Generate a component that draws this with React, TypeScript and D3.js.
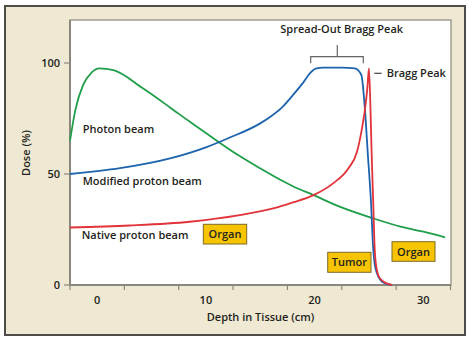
import React from "react";
import * as d3 from "d3";

const photonDepth = [-2.5, -2, -1.3, -0.5, 0.2, 1.5, 4.2, 6.7, 8.5, 10, 11.3, 13, 15, 16.8, 18, 19.9, 22.3, 25.4, 27.9, 30, 32];
const photonDose = [65, 79, 90, 95.8, 97.6, 96.8, 88.6, 80, 73.6, 68.5, 64, 58.4, 52.5, 47.5, 44.5, 40.5, 35.3, 30, 26.3, 24, 21.5];

const modifiedDepth = [-2.5, 2.1, 6.7, 10, 12, 15, 16, 17, 18, 19, 19.6, 20.1, 20.8, 22.5, 23.7, 24.3, 24.6, 24.9, 25.2, 25.35, 25.6, 26.2, 27.1];
const modifiedDose = [50, 52.6, 57, 62, 66, 72.8, 76, 80, 85.5, 91.5, 95.5, 97.5, 97.9, 97.9, 97.6, 94.6, 81, 58.6, 36, 19.5, 7.5, 1.5, 0];

const nativeDepth = [-2.5, 3, 8.5, 13.1, 16.2, 18, 19.9, 21.7, 23.1, 23.9, 24.3, 24.6, 24.85, 25.0, 25.13, 25.25, 25.4, 25.5, 25.65, 26.0, 26.6, 27.1];
const nativeDose = [25.9, 26.8, 28.5, 31.5, 34.5, 37.2, 40.5, 45.8, 52.5, 60, 69, 78, 88.6, 97.6, 81, 58.6, 36, 19.5, 9, 3, 0.8, 0];

const xTickPositions = [-2.5, 2.5, 7.5, 12.5, 17.5, 22.5, 27.5, 32.5];
const xTickLabels = [0, 10, 20, 30];
const yTickLabels = [0, 50, 100];

const seriesNames = ["Photon beam", "Modified proton beam", "Native proton beam"];
const boxLabels = ["Organ", "Tumor", "Organ"];

const FONT = "'Open Sans', sans-serif";

export default function App() {
  const W = 474, H = 346;
  const x = d3.scaleLinear().domain([-2.5, 32.5]).range([70, 450.5]);
  const y = d3.scaleLinear().domain([0, 100]).range([285, 63]);
  const plotTop = 20;
  const plotRight = 451;

  const line = d3
    .line<[number, number]>()
    .x((d) => x(d[0]))
    .y((d) => y(d[1]))
    .curve(d3.curveMonotoneX);

  const zip = (a: number[], b: number[]) => a.map((v, i) => [v, b[i]] as [number, number]);

  const series = [
    { data: zip(photonDepth, photonDose), color: "#1f9e4a" },
    { data: zip(modifiedDepth, modifiedDose), color: "#1d63ad" },
    { data: zip(nativeDepth, nativeDose), color: "#e2333b" },
  ];

  const labelPos = [
    { x: 82.7, y: 133 },
    { x: 82.7, y: 185 },
    { x: 81.7, y: 239 },
  ];

  const boxes = [
    { x0: 203.3, y0: 224.3, x1: 246.7, y1: 244 },
    { x0: 327.7, y0: 252.3, x1: 371, y1: 272.3 },
    { x0: 392, y0: 241.7, x1: 435, y1: 261.3 },
  ];

  const axisColor = "#8a877c";
  const textColor = "#231f20";

  return (
    <svg width={W} height={H} style={{ position: "absolute", left: 0, top: 0 }}>
      <rect x={0} y={0} width={W} height={H} fill="#ffffff" />
      <rect x={5} y={6} width={460} height={329} fill="#efe8d2" stroke="#4d4c48" strokeWidth={2} />
      <rect x={70} y={plotTop} width={plotRight - 70} height={285 - plotTop} fill="#ffffff" stroke={axisColor} strokeWidth={1.2} />
      {/* axes */}
      <line x1={70} x2={70} y1={plotTop} y2={285} stroke={axisColor} strokeWidth={2} />
      <line x1={70} x2={plotRight} y1={285} y2={285} stroke={axisColor} strokeWidth={2} />
      {xTickPositions.map((t) => (
        <line key={"xt" + t} x1={x(t)} x2={x(t)} y1={285} y2={290} stroke={axisColor} strokeWidth={1.2} />
      ))}
      {yTickLabels.map((t) => (
        <line key={"yt" + t} x1={64} x2={70} y1={y(t)} y2={y(t)} stroke={axisColor} strokeWidth={1.2} />
      ))}
      {xTickLabels.map((t) => (
        <text key={"xl" + t} x={x(t)} y={303.5} textAnchor="middle" fontFamily={FONT} fontWeight={600} fontSize={11} fill={textColor}>
          {t}
        </text>
      ))}
      {yTickLabels.map((t) => (
        <text key={"yl" + t} x={60} y={y(t) + 4} textAnchor="end" fontFamily={FONT} fontWeight={600} fontSize={11} fill={textColor}>
          {t}
        </text>
      ))}
      <text x={260.5} y={321} textAnchor="middle" fontFamily={FONT} fontWeight={600} fontSize={11} fill={textColor}>
        Depth in Tissue (cm)
      </text>
      <text
        transform={`translate(30,153) rotate(-90)`}
        textAnchor="middle"
        fontFamily={FONT}
        fontWeight={600}
        fontSize={11}
        fill={textColor}
      >
        Dose (%)
      </text>
      {/* curves */}
      {series.map((s, i) => (
        <path key={"s" + i} d={line(s.data) || ""} fill="none" stroke={s.color} strokeWidth={1.8} strokeLinejoin="round" />
      ))}
      {seriesNames.map((n, i) => (
        <text key={"n" + i} x={labelPos[i].x} y={labelPos[i].y} fontFamily={FONT} fontWeight={600} fontSize={11} fill={textColor}>
          {n}
        </text>
      ))}
      {/* boxes */}
      {boxLabels.map((b, i) => (
        <g key={"b" + i}>
          <rect
            x={boxes[i].x0}
            y={boxes[i].y0}
            width={boxes[i].x1 - boxes[i].x0}
            height={boxes[i].y1 - boxes[i].y0}
            fill="#f6c400"
            stroke="#7d6a2a"
            strokeWidth={1}
          />
          <text
            x={(boxes[i].x0 + boxes[i].x1) / 2}
            y={(boxes[i].y0 + boxes[i].y1) / 2 + 4}
            textAnchor="middle"
            fontFamily={FONT}
            fontWeight={600}
            fontSize={11}
            fill={textColor}
          >
            {b}
          </text>
        </g>
      ))}
      {/* Spread-out Bragg Peak annotation */}
      <text x={341.7} y={32.5} textAnchor="middle" fontFamily={FONT} fontWeight={600} fontSize={11} fill={textColor}>
        Spread-Out Bragg Peak
      </text>
      <path d="M310.7,63.3 V56.7 H363.3 V63.3 M337.3,56.7 V45" fill="none" stroke="#666660" strokeWidth={1.2} />
      <line x1={374.3} x2={381.7} y1={73.3} y2={73.3} stroke="#444" strokeWidth={1.2} />
      <text x={386.7} y={77} fontFamily={FONT} fontWeight={600} fontSize={11} fill={textColor}>
        Bragg Peak
      </text>
    </svg>
  );
}
